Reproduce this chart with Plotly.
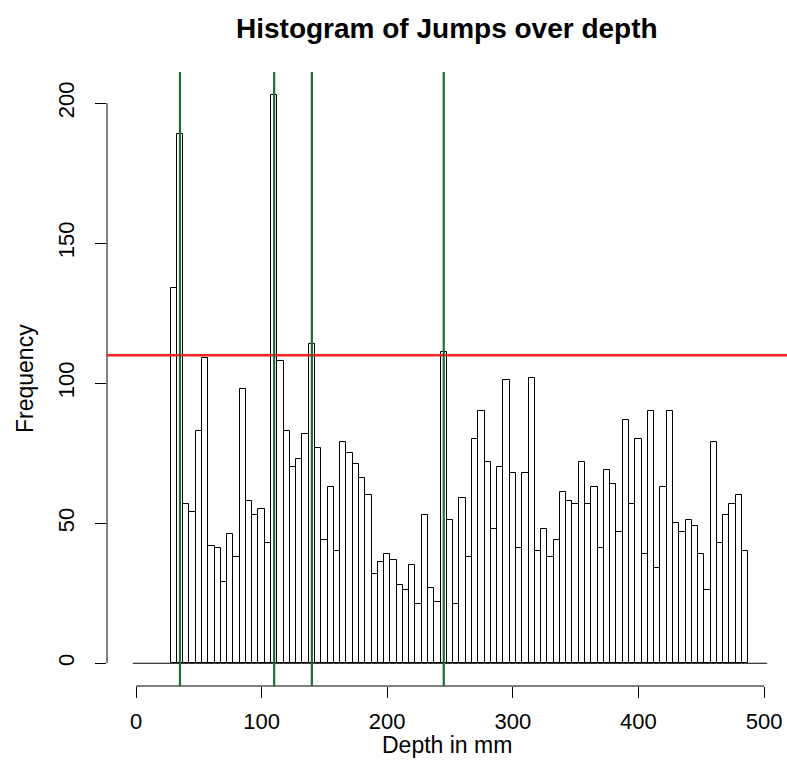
import plotly.graph_objects as go

# Histogram bin centres (mm) and counts
bin_centers = [30, 35, 40, 45, 50, 55, 60, 65, 70, 75, 80, 85, 90, 95, 100, 105,
               110, 115, 120, 125, 130, 135, 140, 145, 150, 155, 160, 165, 170, 175,
               180, 185, 190, 195, 200, 205, 210, 215, 220, 225, 230, 235, 240, 245,
               250, 255, 260, 265, 270, 275, 280, 285, 290, 295, 300, 305, 310, 315,
               320, 325, 330, 335, 340, 345, 350, 355, 360, 365, 370, 375, 380, 385,
               390, 395, 400, 405, 410, 415, 420, 425, 430, 435, 440, 445, 450, 455,
               460, 465, 470, 475, 480, 485]
counts = [134, 189, 57, 54, 83, 109, 42, 41, 29, 46, 38, 98, 58, 53, 55, 43,
          203, 108, 83, 70, 73, 82, 114, 77,
          44, 63, 40, 79, 75, 71, 66, 60, 32, 36, 39, 37, 28, 26, 35, 21,
          53, 27, 22, 111, 51, 21, 59, 38,
          80, 90, 72, 48, 70, 101, 68, 41, 68, 102, 40, 48, 38, 44, 61, 58,
          57, 72, 57, 63, 41, 69, 64, 47,
          87, 57, 80, 39, 90, 34, 63, 90, 50, 47, 51, 49, 39, 26, 79, 43,
          53, 57, 60, 40]
bin_width = 5

green_lines = [35, 110, 140, 245]
red_level = 110
x_ticks = [0, 100, 200, 300, 400, 500]
y_ticks = [0, 50, 100, 150, 200]

FONT = "Liberation Sans, Arial, Helvetica, sans-serif"

fig = go.Figure()
fig.add_trace(go.Bar(
    x=bin_centers, y=counts, width=bin_width,
    marker=dict(color="white", line=dict(color="black", width=1)),
    hoverinfo="x+y", showlegend=False,
))

shapes = []
# baseline under bars
shapes.append(dict(type="line", xref="x", yref="y", x0=-2.5, x1=502.5, y0=0, y1=0,
                   line=dict(color="black", width=1)))
# x axis line
shapes.append(dict(type="line", xref="x", yref="paper", x0=x_ticks[0], x1=x_ticks[-1],
                   y0=0, y1=0, line=dict(color="black", width=1)))
# y axis line
shapes.append(dict(type="line", xref="paper", yref="y", x0=0, x1=0,
                   y0=y_ticks[0], y1=y_ticks[-1], line=dict(color="black", width=1)))
# red horizontal line
shapes.append(dict(type="line", xref="paper", yref="y", x0=0, x1=1,
                   y0=red_level, y1=red_level, line=dict(color="#ff2020", width=2.5)))
# green vertical lines
for g in green_lines:
    shapes.append(dict(type="line", xref="x", yref="paper", x0=g, x1=g, y0=0, y1=1,
                       line=dict(color="#1d6b38", width=2.2)))

fig.update_layout(
    width=787, height=780,
    margin=dict(l=107, r=0, t=72, b=94),
    paper_bgcolor="white", plot_bgcolor="white",
    shapes=shapes,
    bargap=0,
    font=dict(family=FONT, color="black", size=22),
    xaxis=dict(range=[-23.1, 518.3], tickvals=x_ticks, ticks="outside", ticklen=11,
               tickwidth=1, tickcolor="black", showgrid=False, zeroline=False,
               showline=False, tickfont=dict(size=22, family=FONT, color="black"),
               ticklabelstandoff=5),
    yaxis=dict(range=[-8.12, 211.1], tickvals=y_ticks, ticks="outside", ticklen=11,
               tickwidth=1, tickcolor="black", showgrid=False, zeroline=False,
               showline=False, tickangle=-90,
               tickfont=dict(size=22, family=FONT, color="black"),
               ticklabelstandoff=12),
    annotations=[
        dict(text="<b>Histogram of Jumps over depth</b>", xref="paper", yref="paper",
             x=0.5, y=1, yshift=44, showarrow=False, xanchor="center", yanchor="middle",
             font=dict(size=28, family=FONT, color="black")),
        dict(text="Depth in mm", xref="paper", yref="paper", x=0.5, y=0, yshift=-59,
             showarrow=False, xanchor="center", yanchor="middle",
             font=dict(size=23, family=FONT, color="black")),
        dict(text="Frequency", xref="paper", yref="paper", x=0, y=0.5, xshift=-82,
             textangle=-90, showarrow=False, xanchor="center", yanchor="middle",
             font=dict(size=23, family=FONT, color="black")),
    ],
)

fig.write_html(
    "out.html",
    config={"displayModeBar": False},
    post_script="document.documentElement.style.margin='0';"
                "document.body.style.margin='0';"
                "document.body.style.overflow='hidden';",
)
